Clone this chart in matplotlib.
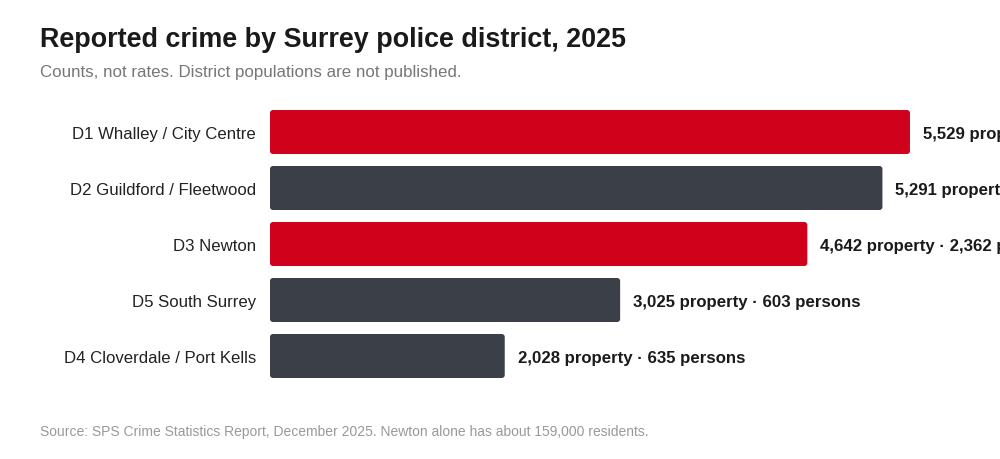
import matplotlib
matplotlib.use("Agg")
import matplotlib.pyplot as plt
from matplotlib.patches import FancyBboxPatch

plt.rcParams['font.family'] = ['Liberation Sans', 'DejaVu Sans']

districts = ["D1 Whalley / City Centre", "D2 Guildford / Fleetwood", "D3 Newton",
             "D5 South Surrey", "D4 Cloverdale / Port Kells"]
property_counts = [5529, 5291, 4642, 3025, 2028]
# persons counts for D1/D2 are cut off in the reference; estimated
persons_counts = [2500, 2100, 2362, 603, 635]
highlight = [True, False, True, False, False]

RED = "#d0021b"
DARK = "#3b4048"

W, H = 1000, 460
PX_PER_UNIT = 0.11575
fig = plt.figure(figsize=(10, 4.6), dpi=100)
fig.patch.set_facecolor("white")
ax = fig.add_axes([270 / W, 1 - 385 / H, 730 / W, 280 / H])
ax.set_xlim(0, 730 / PX_PER_UNIT)
ax.set_ylim(4.5, -0.5)
ax.axis("off")

bar_h = 44 / 56
x_per_px = 1 / PX_PER_UNIT
y_per_px = 1 / 56
for i, (name, p, q, hl) in enumerate(zip(districts, property_counts, persons_counts, highlight)):
    col = RED if hl else DARK
    bars = ax.barh(i, p, height=bar_h, color=col, linewidth=0)
    r = bars[0]
    r.set_visible(False)
    patch = FancyBboxPatch((r.get_x(), r.get_y()), r.get_width(), r.get_height(),
                           boxstyle=f"round,pad=0,rounding_size={3 * x_per_px}",
                           mutation_aspect=y_per_px / x_per_px,
                           facecolor=col, edgecolor="none")
    ax.add_patch(patch)
    ax.annotate(f"{p:,} property · {q:,} persons", xy=(p, i), xytext=(13, -2),
                textcoords="offset pixels", va="center", ha="left",
                fontsize=12.1, fontweight="bold", color="#1a1a1a", annotation_clip=False)
    ax.annotate(name, xy=(0, i), xytext=(-14, -2), textcoords="offset pixels",
                va="center", ha="right", fontsize=12.1, color="#222222",
                annotation_clip=False)

fig.text(40 / W, 1 - 40 / H, "Reported crime by Surrey police district, 2025",
         fontsize=19.4, fontweight="bold", color="#1a1a1a", va="center", ha="left")
fig.text(40 / W, 1 - 73 / H, "Counts, not rates. District populations are not published.",
         fontsize=12.2, color="#777777", va="center", ha="left")
fig.text(40 / W, 1 - 432 / H,
         "Source: SPS Crime Statistics Report, December 2025. Newton alone has about 159,000 residents.",
         fontsize=10, color="#999999", va="center", ha="left")

fig.savefig("out.png", dpi=100, facecolor="white")
